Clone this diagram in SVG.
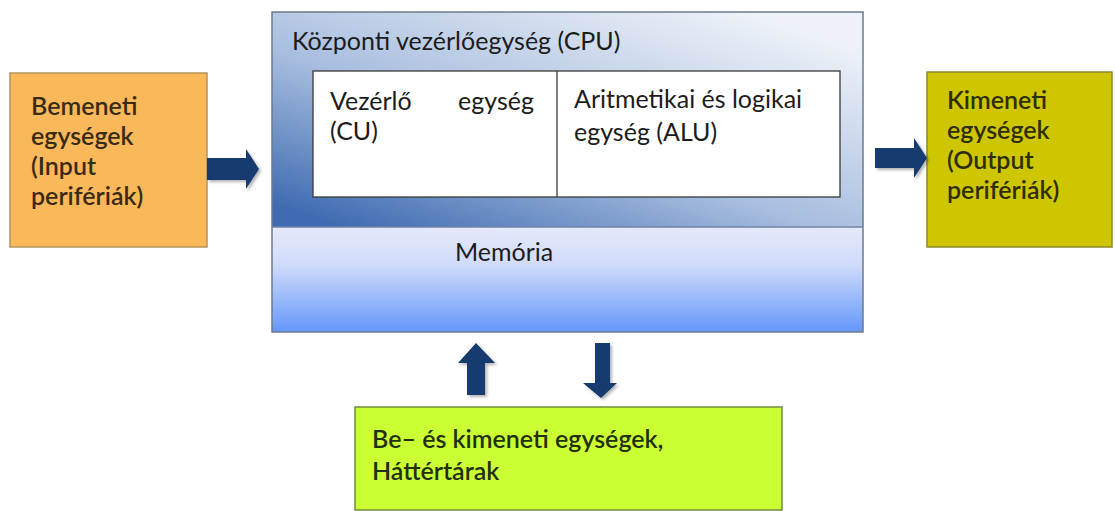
<svg xmlns="http://www.w3.org/2000/svg" width="1115" height="511" viewBox="0 0 1115 511">
  <defs>
    <linearGradient id="cpuGrad" x1="0" y1="0.9" x2="0.8" y2="0">
      <stop offset="0" stop-color="#3e6bb1"/>
      <stop offset="0.45" stop-color="#a8bedf"/>
      <stop offset="1" stop-color="#eef2f8"/>
    </linearGradient>
    <linearGradient id="memGrad" x1="0" y1="0" x2="0" y2="1">
      <stop offset="0" stop-color="#e4e9fb"/>
      <stop offset="0.35" stop-color="#d2dcfa"/>
      <stop offset="1" stop-color="#6497fb"/>
    </linearGradient>
    <filter id="shadow" x="-20%" y="-20%" width="150%" height="150%">
      <feDropShadow dx="2" dy="2" stdDeviation="1.5" flood-color="#000" flood-opacity="0.3"/>
    </filter>
  </defs>
  <style>
    .txt { font-family: Lato, "Open Sans", sans-serif; font-size: 25px; fill: #1c1c1c; }
    .lbl { font-family: Lato, "Open Sans", sans-serif; font-size: 25px; font-weight: 600; }
    .box { stroke-width: 1.5; }
    .arrow { fill: #173a6e; filter: url(#shadow); }
  </style>

  <rect width="1115" height="511" fill="#ffffff"/>

  <!-- input units -->
  <g id="input">
    <rect class="box" x="10" y="73" width="197" height="174" fill="#f9b95b" stroke="#b59359"/>
    <text class="lbl" fill="#3a2b14">
      <tspan x="31" y="115">Bemeneti</tspan>
      <tspan x="31" y="145">egységek</tspan>
      <tspan x="31" y="175">(Input</tspan>
      <tspan x="31" y="205">perifériák)</tspan>
    </text>
  </g>

  <!-- central processing unit with memory -->
  <g id="cpu">
    <rect x="272" y="12" width="591" height="215" fill="url(#cpuGrad)"/>
    <rect x="272" y="227" width="591" height="105" fill="url(#memGrad)"/>
    <rect x="272" y="12" width="591" height="320" fill="none" stroke="#6d7b8c" stroke-width="1.5"/>
    <line x1="272" y1="227" x2="863" y2="227" stroke="#6f84a6" stroke-width="1.5"/>
    <text class="txt" x="292" y="50">Központi vezérlőegység (CPU)</text>
  </g>

  <g id="cu-alu">
    <rect x="313" y="71" width="527" height="126" fill="#ffffff" stroke="#3a3a3a" stroke-width="1.3"/>
    <line x1="557" y1="71" x2="557" y2="197" stroke="#3a3a3a" stroke-width="1.3"/>
    <text class="txt" x="330" y="110">Vezérlő</text>
    <text class="txt" x="534" y="110" text-anchor="end">egység</text>
    <text class="txt" x="330" y="140">(CU)</text>
    <text class="txt">
      <tspan x="574" y="108">Aritmetikai és logikai</tspan>
      <tspan x="574" y="141">egység (ALU)</tspan>
    </text>
  </g>

  <g id="memory">
    <text class="txt" x="455" y="261">Memória</text>
  </g>

  <!-- output units -->
  <g id="output">
    <rect class="box" x="927" y="72" width="185" height="175" fill="#cdc600" stroke="#8c8a2e"/>
    <text class="lbl" fill="#2f2e08">
      <tspan x="947" y="109">Kimeneti</tspan>
      <tspan x="947" y="139">egységek</tspan>
      <tspan x="947" y="169">(Output</tspan>
      <tspan x="947" y="199">perifériák)</tspan>
    </text>
  </g>

  <!-- I/O and storage -->
  <g id="storage">
    <rect class="box" x="355" y="407" width="427" height="103" fill="#ccff33" stroke="#6f8c3e"/>
    <text class="lbl" fill="#22300f" font-size="26.5">
      <tspan x="372" y="448">Be– és kimeneti egységek,</tspan>
      <tspan x="372" y="480">Háttértárak</tspan>
    </text>
  </g>

  <!-- block arrows -->
  <g id="connectors">
    <polygon class="arrow" points="207,158 246,158 246,149 259,169 246,189 246,180 207,180"/>
    <polygon class="arrow" points="875,148 914,148 914,138 927,158 914,178 914,168 875,168"/>
    <polygon class="arrow" points="467,395 467,363 458,363 476,343 495,363 485,363 485,395"/>
    <polygon class="arrow" points="595,343 610,343 610,383 617,383 601,398 583,383 595,383"/>
  </g>
</svg>
